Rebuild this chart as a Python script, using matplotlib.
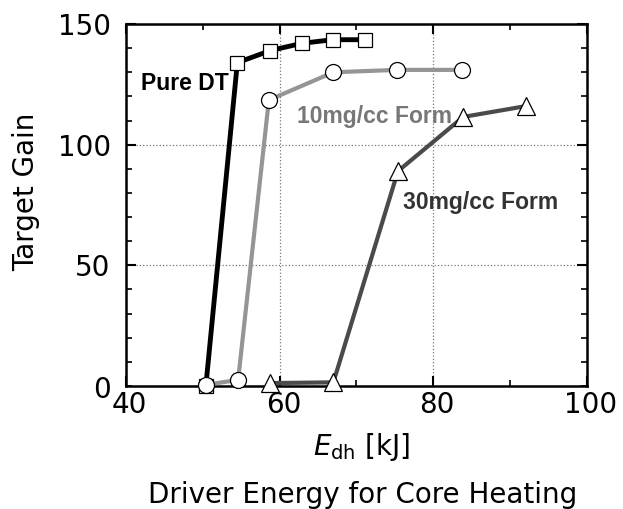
import matplotlib
matplotlib.use("Agg")
import matplotlib.pyplot as plt
from matplotlib.ticker import MultipleLocator

# data
pure_x = [50.4, 54.5, 58.8, 62.9, 66.9, 71.1]
pure_y = [0, 134, 139, 142, 143.5, 143.5]
f10_x = [50.4, 54.6, 58.6, 67.0, 75.3, 83.8]
f10_y = [0.5, 2.5, 118.5, 130, 131, 131]
f30_x = [58.7, 67.0, 75.4, 83.9, 92.1]
f30_y = [1.2, 1.5, 89, 111.5, 116]
xticks = [40, 60, 80, 100]
yticks = [50, 100, 150]

plt.rcParams['font.family'] = ['DejaVu Sans']
plt.rcParams['mathtext.fontset'] = 'dejavusans'

fig = plt.figure(figsize=(6.23, 5.09), dpi=100)
ax = fig.add_axes([0.2022, 0.2417, 0.7398, 0.7111])

mk = dict(markerfacecolor='white', markeredgecolor='black', markeredgewidth=0.9,
          clip_on=False, zorder=3)
ax.plot(pure_x, pure_y, color='black', lw=3.5, marker='s', markersize=10.5, **mk)
ax.plot(f10_x, f10_y, color='#959595', lw=3.0, marker='o', markersize=11.5, **mk)
ax.plot(f30_x, f30_y, color='#4a4a4a', lw=3.0, marker='^', markersize=13, **mk)

cond = ['Liberation Sans Narrow', 'Liberation Sans', 'DejaVu Sans']
ax.text(42.0, 125.5, 'Pure DT', fontsize=16.5, fontweight='bold', family=cond,
        va='center', ha='left', color='black')
ax.text(62.3, 111.5, '10mg/cc Form', fontsize=16.5, fontweight='bold', family=cond,
        va='center', ha='left', color='#777777')
ax.text(76.1, 76, '30mg/cc Form', fontsize=16.5, fontweight='bold', family=cond,
        va='center', ha='left', color='#333333')

ax.set_xlim(40, 100)
ax.set_ylim(0, 150)
ax.xaxis.set_major_locator(MultipleLocator(20))
ax.xaxis.set_minor_locator(MultipleLocator(10))
ax.yaxis.set_minor_locator(MultipleLocator(10))
ax.set_yticks(yticks)
ax.set_yticklabels([str(v) for v in yticks])
ax.set_xticklabels([])
ax.tick_params(which='both', direction='in', top=True, right=True)
ax.tick_params(which='major', length=7, width=1.5, labelsize=20, pad=11)
ax.tick_params(which='minor', length=4, width=1.2)
ax.grid(True, which='major', color='#777777', linestyle=':', lw=0.9)
for s in ax.spines.values():
    s.set_linewidth(1.8)

# x tick labels placed like the original (40 sits right of the y "0")
for v in xticks:
    ax.text(v + 0.5, -7.9, str(v), fontsize=20, ha='center', va='center',
            clip_on=False)
ax.text(-0.033, -0.012, '0', fontsize=20, ha='right', va='center',
        transform=ax.transAxes)

fig.text(0.042, 0.623, 'Target Gain', fontsize=20, rotation=90,
         ha='center', va='center')
fig.text(0.581, 0.122, r'$E_{\mathrm{dh}}$ [kJ]', fontsize=20, ha='center', va='center')
fig.text(0.582, 0.027, 'Driver Energy for Core Heating', fontsize=20,
         ha='center', va='center')

fig.savefig('out.png', dpi=100)
